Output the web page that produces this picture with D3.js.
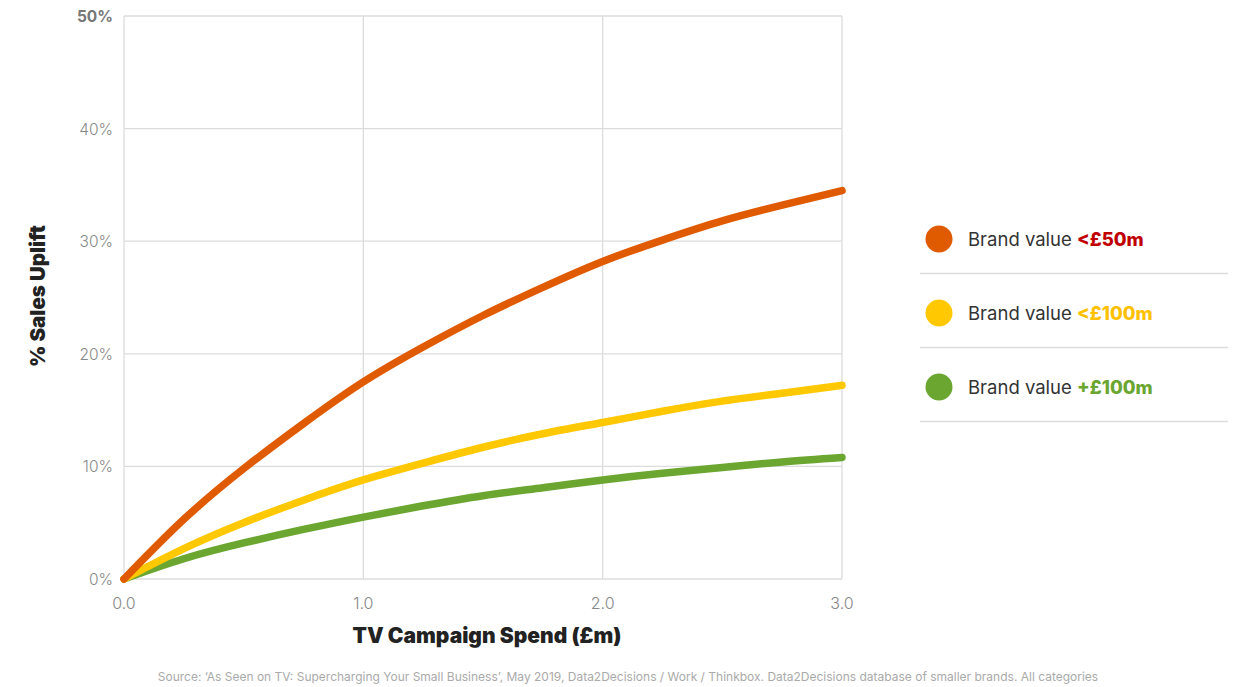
<!DOCTYPE html>
<html><head><meta charset="utf-8">
<script src="https://cdn.jsdelivr.net/npm/d3@7"></script>
<style>
body{margin:0;background:#fff;}
svg{display:block;}
text{font-family:Inter, Roboto, sans-serif;}
</style></head>
<body>
<svg id="chart" width="1239" height="687"></svg>
<script>
const spend = [0, 0.25, 0.5, 0.75, 1.0, 1.25, 1.5, 1.75, 2.0, 2.25, 2.5, 2.75, 3.0];
const upliftUnder50 = [0, 5.3, 9.8, 13.8, 17.5, 20.6, 23.4, 25.9, 28.2, 30.1, 31.8, 33.2, 34.5];
const upliftUnder100 = [0, 2.7, 5.0, 7.0, 8.8, 10.3, 11.7, 12.9, 13.9, 14.9, 15.8, 16.5, 17.2];
const upliftOver100 = [0, 1.8, 3.2, 4.4, 5.5, 6.5, 7.4, 8.1, 8.8, 9.4, 9.9, 10.4, 10.8];
const xTicks = [0, 1, 2, 3];
const yTicks = [0, 10, 20, 30, 40, 50];
const seriesNames = ["<£50m", "<£100m", "+£100m"];

const series = [
  {name: seriesNames[0], values: upliftUnder50, color: "#E05A00", labelColor: "#C00000"},
  {name: seriesNames[1], values: upliftUnder100, color: "#FFC800", labelColor: "#FFC000"},
  {name: seriesNames[2], values: upliftOver100, color: "#6AA630", labelColor: "#6AA630"}
];

const svg = d3.select("#chart");
const x = d3.scaleLinear().domain([0, 3]).range([124, 842]);
const y = d3.scaleLinear().domain([0, 50]).range([579, 16]);

// gridlines
const g = svg.append("g");
g.selectAll(".hg").data(yTicks).join("line")
  .attr("x1", x(0)).attr("x2", x(3))
  .attr("y1", d => y(d)).attr("y2", d => y(d))
  .attr("stroke", "#dcdcdc").attr("stroke-width", 1.3);
g.selectAll(".vg").data(xTicks).join("line")
  .attr("x1", d => x(d)).attr("x2", d => x(d))
  .attr("y1", y(0)).attr("y2", y(50))
  .attr("stroke", "#dcdcdc").attr("stroke-width", 1.3);

// y tick labels
svg.selectAll(".yl").data(yTicks).join("text")
  .attr("x", 113).attr("y", d => y(d) + 6)
  .attr("text-anchor", "end")
  .attr("font-size", 15.5)
  .attr("font-weight", d => d === 50 ? 700 : 300)
  .attr("fill", d => d === 50 ? "#777" : "#888")
  .text(d => d + "%");

// x tick labels
svg.selectAll(".xl").data(xTicks).join("text")
  .attr("x", d => x(d)).attr("y", 609)
  .attr("text-anchor", "middle")
  .attr("font-size", 16).attr("font-weight", 300)
  .attr("fill", "#888")
  .text(d => d3.format(".1f")(d));

// axis titles
svg.append("text")
  .attr("transform", "translate(45,296) rotate(-90)")
  .attr("text-anchor", "middle")
  .attr("font-size", 20.5).attr("font-weight", 900)
  .attr("fill", "#222")
  .text("% Sales Uplift");
svg.append("text")
  .attr("x", 487).attr("y", 643)
  .attr("text-anchor", "middle")
  .attr("font-size", 21).attr("font-weight", 900)
  .attr("fill", "#222")
  .text("TV Campaign Spend (£m)");

// lines
const line = d3.line()
  .x((d, i) => x(spend[i]))
  .y(d => y(d))
  .curve(d3.curveNatural);
svg.selectAll(".series").data(series.slice().reverse()).join("path")
  .attr("d", d => line(d.values))
  .attr("fill", "none")
  .attr("stroke", d => d.color)
  .attr("stroke-width", 7.5)
  .attr("stroke-linecap", "round")
  .attr("stroke-linejoin", "round");

// legend
const lg = svg.append("g");
const ly = [239, 313, 387];
series.forEach((s, i) => {
  lg.append("circle").attr("cx", 939).attr("cy", ly[i]).attr("r", 13.5).attr("fill", s.color);
  const t = lg.append("text").attr("x", 968).attr("y", ly[i] + 6.5)
    .attr("font-size", 18.5).attr("fill", "#333");
  t.append("tspan").text("Brand value ");
  t.append("tspan").attr("font-weight", 800).attr("fill", s.labelColor).text(s.name);
  lg.append("line").attr("x1", 920).attr("x2", 1228)
    .attr("y1", ly[i] + 34.5).attr("y2", ly[i] + 34.5)
    .attr("stroke", "#dcdcdc").attr("stroke-width", 1.3);
});

// source
svg.append("text")
  .attr("x", 628).attr("y", 681)
  .attr("text-anchor", "middle")
  .attr("font-size", 12).attr("fill", "#aaa")
  .text("Source: ‘As Seen on TV: Supercharging Your Small Business’, May 2019, Data2Decisions / Work / Thinkbox. Data2Decisions database of smaller brands. All categories");
</script>
</body></html>
